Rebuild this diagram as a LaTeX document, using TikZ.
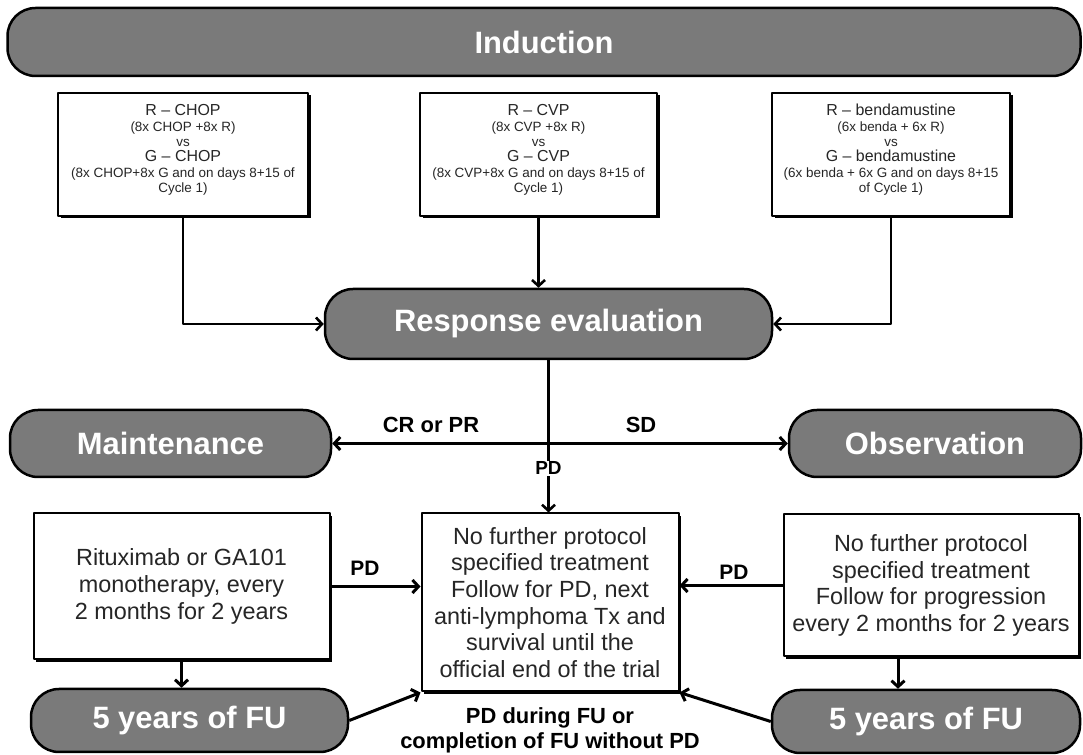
\documentclass[tikz,border=0pt]{standalone}
\usepackage{fontspec}
\setmainfont{Liberation Sans}
\usepackage{tikz}
\usetikzlibrary{arrows.meta}
\usetikzlibrary{shadows}

\definecolor{pillgray}{RGB}{122,122,122}
\definecolor{inkgray}{RGB}{38,38,38}

\newcommand{\armhead}{\fontsize{16}{17}\selectfont}
\newcommand{\armnote}{\fontsize{13.5}{15}\selectfont}

\tikzset{
  pill/.style={draw=black,line width=2.5bp,fill=pillgray,rounded corners=28bp,
    text=white,font=\bfseries\fontsize{31}{31}\selectfont,inner sep=0pt},
  armbox/.style={draw=black,line width=2bp,fill=white,text=inkgray,align=center,
    inner sep=2bp,drop shadow={shadow xshift=2.5bp,shadow yshift=-2.5bp,fill=black,opacity=1}},
  bodytxt/.style={font=\fontsize{23.5}{26.7}\selectfont},
  armtxt/.style={font=\armnote},
  tag/.style={font=\bfseries\fontsize{21}{23}\selectfont,text=black,inner sep=1bp},
  flow/.style={line width=2.6bp,->},
  flowbold/.style={line width=3bp,->},
}

\begin{document}
\begin{tikzpicture}[>={Straight Barb[length=6bp,width=13bp]},line join=bevel,]
\useasboundingbox (0bp,0bp) rectangle (1083bp,755bp);
%%
\node (induction) at (544bp,713bp) [pill,minimum width=1073bp,minimum height=68bp] {Induction};
  \node (arm_chop) at (183bp,600.5bp) [armbox,armtxt,minimum width=250bp,minimum height=123bp]
    {{\armhead R -- CHOP}\\[1bp](8x CHOP +8x R)\\vs\\{\armhead G -- CHOP}\\[1bp](8x CHOP+8x G and on days 8+15 of\\Cycle 1)\\[-3bp]{}};
  \node (arm_cvp) at (538.5bp,600.5bp) [armbox,armtxt,minimum width=237bp,minimum height=123bp]
    {{\armhead R -- CVP}\\[1bp](8x CVP +8x R)\\vs\\{\armhead G -- CVP}\\[1bp](8x CVP+8x G and on days 8+15 of\\Cycle 1)\\[-3bp]{}};
  \node (arm_benda) at (891bp,600.5bp) [armbox,armtxt,minimum width=238bp,minimum height=123bp]
    {{\armhead R -- bendamustine}\\[1bp](6x benda + 6x R)\\vs\\{\armhead G -- bendamustine}\\[1bp](6x benda + 6x G and on days 8+15\\of Cycle 1)\\[-3bp]{}};
  \node (response) at (548.5bp,431bp) [pill,minimum width=447bp,minimum height=70bp] {Response evaluation};
  \node (maintenance) at (170.5bp,311.5bp) [pill,minimum width=321bp,minimum height=67bp] {Maintenance};
  \node (observation) at (935bp,311.5bp) [pill,minimum width=292bp,minimum height=67bp] {Observation};
  \node (ritux) at (181.5bp,168.5bp) [armbox,bodytxt,minimum width=296bp,minimum height=146bp]
    {Rituximab or GA101\\monotherapy, every\\2 months for 2 years};
  \node (nofurther) at (550bp,152.5bp) [armbox,bodytxt,minimum width=257bp,minimum height=178bp]
    {No further protocol\\specified treatment\\Follow for PD, next\\anti-lymphoma Tx and\\survival until the\\official end of the trial};
  \node (followup) at (931bp,169.5bp) [armbox,bodytxt,minimum width=295bp,minimum height=142bp]
    {No further protocol\\specified treatment\\Follow for progression\\every 2 months for 2 years};
  \node (fu_left) at (189.5bp,34.5bp) [pill,minimum width=317bp,minimum height=63bp] {5 years of FU};
  \node (fu_right) at (926bp,33.5bp) [pill,minimum width=308bp,minimum height=63bp] {5 years of FU};
  \node (lbl_crpr) at (431bp,330bp) [tag,font=\bfseries\fontsize{22}{24}\selectfont] {CR or PR};
  \node (lbl_sd) at (641bp,330bp) [tag,font=\bfseries\fontsize{22}{24}\selectfont] {SD};
  \node (lbl_pdl) at (365bp,187bp) [tag] {PD};
  \node (lbl_pdr) at (734bp,183bp) [tag] {PD};
  \node (lbl_end) at (550bp,25bp) [tag,align=center,font=\bfseries\fontsize{22}{25}\selectfont]
    {PD during FU or\\completion of FU without PD};
  \draw [flow] (arm_chop.south) |- (response.west);
  \draw [flow] (arm_cvp.south) -- (arm_cvp.south |- response.north);
  \draw [flow] (arm_benda.south) |- (response.east);
  \draw [flowbold,<->] (maintenance.east) -- (observation.west);
  \draw [flow] (response.south) -- (response.south |- nofurther.north)
    node [pos=0.71,tag,fill=white,font=\bfseries\fontsize{19}{21}\selectfont] {PD};
  \draw [flowbold] (ritux.east) -- (ritux.east -| nofurther.west);
  \draw [flowbold] (followup.west) -- (followup.west -| nofurther.east);
  \draw [flowbold] (ritux.south) -- (ritux.south |- fu_left.north);
  \draw [flowbold] ([xshift=-33bp]followup.south) -- ([xshift=-33bp]followup.south |- fu_right.north);
  \draw [flowbold] (fu_left.east) -- (nofurther.south west);
  \draw [flowbold] (fu_right.west) -- (nofurther.south east);
%
\end{tikzpicture}
\end{document}
